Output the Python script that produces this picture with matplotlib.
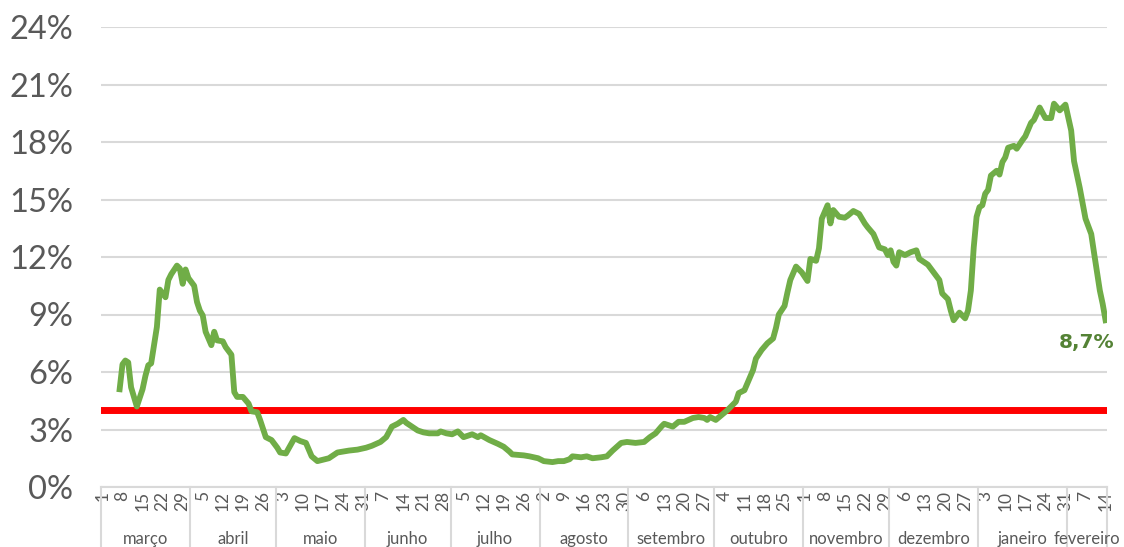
import numpy as np
import pandas as pd
import matplotlib.pyplot as plt
from matplotlib.lines import Line2D

# dias desde 1 de março de 2020 e taxa (%)
start = pd.Timestamp('2020-03-01')
day = [6, 7, 8, 9, 10, 12, 14, 15, 16, 17, 18, 19, 20, 22, 23, 24, 26, 27, 28, 29,
       30, 32, 33, 34, 35, 36, 38, 39, 40, 42, 43, 45, 46, 47, 49, 51, 52, 54, 55, 57,
       59, 61, 62, 64, 67, 69, 71, 73, 75, 79, 82, 86, 89, 92, 94, 97, 99, 101, 103, 105,
       106, 108, 110, 112, 114, 117, 118, 120, 122, 124, 126, 129, 131, 132, 135, 138, 140, 142, 143, 147,
       149, 152, 154, 157, 159, 161, 163, 164, 167, 169, 171, 174, 176, 178, 181, 183, 186, 189, 191, 193,
       195, 196, 199, 201, 203, 206, 208, 210, 211, 212, 214, 216, 218, 221, 222, 224, 225, 227, 228, 230,
       232, 234, 235, 236, 238, 239, 240, 242, 244, 246, 247, 249, 250, 251, 253, 254, 255, 257, 259, 260,
       262, 264, 266, 267, 269, 271, 273, 274, 275, 276, 277, 278, 280, 282, 284, 285, 288, 290, 292, 293,
       295, 296, 297, 299, 301, 302, 303, 304, 305, 306, 307, 308, 309, 310, 312, 313, 314, 315, 316, 318,
       319, 321, 322, 324, 325, 327, 329, 331, 332, 334, 336, 338, 339, 341, 343, 345, 346, 348, 349, 350]
rate = [5.1, 6.4, 6.6, 6.5, 5.2, 4.2, 5.1, 5.8, 6.35, 6.45, 7.4, 8.35, 10.3, 9.9, 10.8, 11.1, 11.55, 11.4, 10.6, 11.35,
        10.9, 10.5, 9.65, 9.2, 8.95, 8.1, 7.4, 8.1, 7.65, 7.6, 7.3, 6.9, 4.95, 4.7, 4.7, 4.35, 3.95, 3.9, 3.5, 2.6,
        2.45, 2.05, 1.8, 1.75, 2.55, 2.4, 2.3, 1.6, 1.35, 1.5, 1.8, 1.9, 1.95, 2.05, 2.15, 2.35, 2.6, 3.15, 3.3, 3.5,
        3.35, 3.15, 2.95, 2.85, 2.8, 2.8, 2.9, 2.8, 2.75, 2.9, 2.6, 2.75, 2.6, 2.7, 2.45, 2.25, 2.1, 1.85, 1.7, 1.65,
        1.6, 1.5, 1.35, 1.3, 1.35, 1.35, 1.45, 1.6, 1.55, 1.6, 1.5, 1.55, 1.6, 1.9, 2.3, 2.35, 2.3, 2.35, 2.6, 2.8,
        3.15, 3.3, 3.15, 3.4, 3.4, 3.6, 3.65, 3.6, 3.5, 3.65, 3.5, 3.75, 4.0, 4.45, 4.9, 5.05, 5.4, 6.1, 6.7, 7.15,
        7.5, 7.75, 8.3, 9.0, 9.45, 10.15, 10.8, 11.5, 11.2, 10.75, 11.9, 11.8, 12.45, 14.0, 14.7, 13.75, 14.45, 14.1, 14.05, 14.15,
        14.4, 14.25, 13.75, 13.55, 13.2, 12.5, 12.4, 12.1, 12.35, 11.75, 11.55, 12.25, 12.1, 12.25, 12.35, 11.9, 11.6, 11.2, 10.8, 10.1,
        9.8, 9.2, 8.7, 9.1, 8.8, 9.2, 10.25, 12.5, 14.1, 14.6, 14.7, 15.3, 15.5, 16.25, 16.5, 16.3, 16.95, 17.2, 17.7, 17.8,
        17.65, 18.1, 18.3, 19.0, 19.15, 19.8, 19.25, 19.25, 20.0, 19.65, 19.95, 18.6, 17.0, 15.6, 14.0, 13.2, 12.2, 10.25, 9.55, 8.7]
limite = 4
last_day = 350

months = ['março', 'abril', 'maio', 'junho', 'julho', 'agosto', 'setembro',
          'outubro', 'novembro', 'dezembro', 'janeiro', 'fevereiro']

grey = '#595959'
fam = ['Lato', 'DejaVu Sans']
fig = plt.figure(figsize=(11.24, 5.47), dpi=100)
ax = fig.add_axes([101 / 1124, 60 / 547, 1006 / 1124, 460 / 547])

ax.axhline(limite, color='#FF0000', lw=5, zorder=2)
ax.plot(day, rate, color='#70AD47', lw=4.2, solid_joinstyle='round', zorder=3)

ax.annotate(f'{rate[-1]:.1f}%'.replace('.', ','), xy=(day[-1], rate[-1]),
            xytext=(-14, -16), textcoords='offset points', ha='center', va='center',
            fontsize=14.5, fontweight='bold', color='#548235')

# eixo y
ax.set_ylim(0, 24)
ax.set_yticks(range(0, 25, 3))
ax.set_yticklabels([f'{v}%' for v in range(0, 25, 3)], fontsize=23.5, color=grey, family=fam)
ax.tick_params(axis='y', length=0, pad=20)
ax.grid(axis='y', color='#d9d9d9', lw=1.5)
ax.set_axisbelow(True)
for s in ['left', 'right', 'top']:
    ax.spines[s].set_visible(False)
ax.spines['bottom'].set_color('#d9d9d9')
ax.spines['bottom'].set_linewidth(1.5)

# eixo x: dias a cada 7 dias
ax.set_xlim(-0.5, last_day + 0.5)
xt = np.arange(0, last_day + 1, 7)
ax.set_xticks(xt)
ax.set_xticklabels([str((start + pd.Timedelta(days=int(d))).day) for d in xt],
                   rotation=90, fontsize=12.5, color=grey, family=fam)
ax.tick_params(axis='x', length=0, pad=3)

# separadores e nomes dos meses
bounds = [(m - start).days - 0.5 for m in pd.date_range(start, periods=12, freq='MS')]
bounds.append(last_day + 0.5)
trans = ax.get_xaxis_transform()
for b in bounds:
    ax.add_line(Line2D([b, b], [0, -0.15], transform=trans, color='#d9d9d9',
                       lw=1.5, clip_on=False))
for i, name in enumerate(months):
    ax.text((bounds[i] + bounds[i + 1]) / 2, -0.113, name, transform=trans,
            ha='center', va='center', fontsize=12, color=grey, family=fam)

fig.savefig('out.png', dpi=100)
